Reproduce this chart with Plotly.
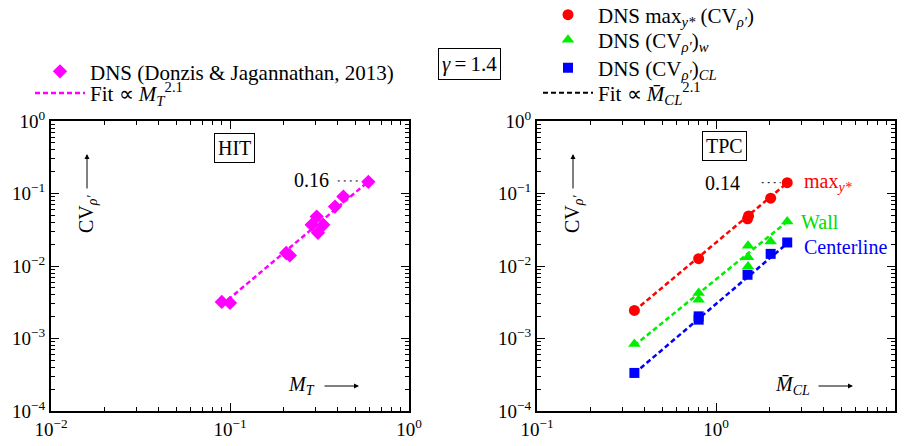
import plotly.graph_objects as go

# ---------------- data ----------------
# HIT: DNS (Donzis & Jagannathan, 2013)
hit_mt = [0.090, 0.100, 0.206, 0.216, 0.305, 0.286, 0.332, 0.310, 0.386, 0.430, 0.593]
hit_cv = [0.0032, 0.0031, 0.0151, 0.0140, 0.0481, 0.0370, 0.0370, 0.0287, 0.066, 0.0906, 0.145]
hit_fit_x = [0.090, 0.600]
hit_fit_y = [0.0029, 0.150]

# TPC
tpc_max_m = [0.35, 0.80, 1.50, 1.52, 2.02, 2.50]
tpc_max_cv = [0.00244, 0.0126, 0.0447, 0.049, 0.0861, 0.141]
tpc_wall_m = [0.35, 0.80, 0.80, 1.51, 1.51, 1.51, 2.02, 2.50]
tpc_wall_cv = [0.00084, 0.00423, 0.00342, 0.0190, 0.01325, 0.00984, 0.0218, 0.041]
tpc_cl_m = [0.35, 0.80, 0.80, 1.50, 2.02, 2.50]
tpc_cl_cv = [0.000335, 0.00202, 0.00182, 0.00757, 0.0147, 0.0211]
fit_max_x = [0.35, 2.50]
fit_max_y = [0.0024, 0.140]
fit_wall_x = [0.35, 2.50]
fit_wall_y = [0.00080, 0.041]
fit_cl_x = [0.35, 2.50]
fit_cl_y = [0.00033, 0.0205]

# connectors for highlighted values
hit_note_x = [0.40, 0.52]
hit_note_y = [0.149, 0.149]
tpc_note_x = [1.80, 2.30]
tpc_note_y = [0.141, 0.141]

# axis ticks
y_tickvals = [1e-4, 1e-3, 1e-2, 1e-1, 1e0]
y_ticktext = ["10<sup>\u22124</sup>", "10<sup>\u22123</sup>", "10<sup>\u22122</sup>", "10<sup>\u22121</sup>", "10<sup>0</sup>"]
x1_tickvals = [1e-2, 1e-1, 1e0]
x1_ticktext = ["10<sup>\u22122</sup>", "10<sup>\u22121</sup>", "10<sup>0</sup>"]
x2_tickvals = [1e-1, 1e0, 1e1]
x2_ticktext = ["10<sup>\u22121</sup>", "10<sup>0</sup>", "10<sup>1</sup>"]

# ---------------- layout helpers ----------------
W, H = 907, 446
FONT = "Liberation Serif, Times New Roman, serif"
MAGENTA = "#ff00ff"
RED = "#ff0000"
GREEN = "#00ee00"
BLUE = "#0000ff"


def px(x):
    return x / W


def py(y):
    return 1 - y / H


fig = go.Figure()

# ---- left panel (HIT)
fig.add_trace(go.Scatter(x=hit_fit_x, y=hit_fit_y, mode="lines", xaxis="x", yaxis="y",
                         line=dict(color=MAGENTA, width=2.5, dash="5px,3px"),
                         name="Fit \u221d <i>M</i><sub><i>T</i></sub><sup>2.1</sup>",
                         legend="legend2"))
fig.add_trace(go.Scatter(x=hit_mt, y=hit_cv, mode="markers", xaxis="x", yaxis="y",
                         marker=dict(symbol="diamond", size=11, color=MAGENTA),
                         name="DNS (Donzis &amp; Jagannathan, 2013)", legend="legend"))
fig.add_trace(go.Scatter(x=hit_note_x, y=hit_note_y, mode="lines", xaxis="x", yaxis="y",
                         line=dict(color="black", width=1, dash="2px,4px"), showlegend=False))

# ---- right panel (TPC)
for fx, fy, col in [(fit_max_x, fit_max_y, RED), (fit_wall_x, fit_wall_y, GREEN), (fit_cl_x, fit_cl_y, BLUE)]:
    fig.add_trace(go.Scatter(x=fx, y=fy, mode="lines", xaxis="x2", yaxis="y2",
                             line=dict(color=col, width=2.5, dash="5px,3px"), showlegend=False))
fig.add_trace(go.Scatter(x=[None], y=[None], mode="lines", xaxis="x2", yaxis="y2",
                         line=dict(color="black", width=2, dash="5px,3px"),
                         name="Fit \u221d <i>M\u0304</i><sub><i>CL</i></sub><sup>2.1</sup>", legend="legend6"))
fig.add_trace(go.Scatter(x=tpc_max_m, y=tpc_max_cv, mode="markers", xaxis="x2", yaxis="y2",
                         marker=dict(symbol="circle", size=11, color=RED),
                         name="DNS max<sub><i>y*</i></sub> (CV<sub><i>\u03c1\u2032</i></sub>)", legend="legend3"))
fig.add_trace(go.Scatter(x=tpc_wall_m, y=tpc_wall_cv, mode="markers", xaxis="x2", yaxis="y2",
                         marker=dict(symbol="triangle-up", size=11, color=GREEN),
                         name="DNS (CV<sub><i>\u03c1\u2032</i></sub>)<sub><i>w</i></sub>", legend="legend4"))
fig.add_trace(go.Scatter(x=tpc_cl_m, y=tpc_cl_cv, mode="markers", xaxis="x2", yaxis="y2",
                         marker=dict(symbol="square", size=10, color=BLUE),
                         name="DNS (CV<sub><i>\u03c1\u2032</i></sub>)<sub><i>CL</i></sub>", legend="legend5"))
fig.add_trace(go.Scatter(x=tpc_note_x, y=tpc_note_y, mode="lines", xaxis="x2", yaxis="y2",
                         line=dict(color="black", width=1, dash="2px,4px"), showlegend=False))

axis_common = dict(type="log", showline=True, linecolor="black", linewidth=2, mirror="ticks",
                   ticks="inside", ticklen=8, tickwidth=1, tickcolor="black", showgrid=False,
                   zeroline=False, tickfont=dict(family=FONT, size=19, color="black"),
                   minor=dict(ticks="inside", ticklen=4, tickwidth=1, tickcolor="black",
                              dtick="D1", showgrid=False))

LEFT = (51, 409)
RIGHT = (537, 895)
TOP, BOTTOM = 121, 411

leg_common = dict(bgcolor="rgba(0,0,0,0)", borderwidth=0, xanchor="left", yanchor="middle",
                  font=dict(family=FONT, size=21, color="black"), itemwidth=50,
                  tracegroupgap=0)

fig.update_layout(
    width=W, height=H, margin=dict(l=0, r=0, t=0, b=0, autoexpand=False),
    paper_bgcolor="white", plot_bgcolor="white",
    font=dict(family=FONT, size=20, color="black"),
    xaxis=dict(axis_common, domain=[px(LEFT[0]), px(LEFT[1])], range=[-2, 0], anchor="y",
               tickvals=x1_tickvals, ticktext=x1_ticktext),
    yaxis=dict(axis_common, domain=[py(BOTTOM), py(TOP)], range=[-4, 0], anchor="x",
               tickvals=y_tickvals, ticktext=y_ticktext),
    xaxis2=dict(axis_common, domain=[px(RIGHT[0]), px(RIGHT[1])], range=[-1, 1], anchor="y2",
                tickvals=x2_tickvals, ticktext=x2_ticktext),
    yaxis2=dict(axis_common, domain=[py(BOTTOM), py(TOP)], range=[-4, 0], anchor="x2",
                tickvals=y_tickvals, ticktext=y_ticktext),
    legend=dict(leg_common, x=px(30), y=py(71.7)),
    legend2=dict(leg_common, x=px(30), y=py(93.3)),
    legend3=dict(leg_common, x=px(538), y=py(15)),
    legend4=dict(leg_common, x=px(538), y=py(40)),
    legend5=dict(leg_common, x=px(538), y=py(68)),
    legend6=dict(leg_common, x=px(538), y=py(93)),
    showlegend=True,
)

ann = []


def text(x, y, s, color="black", size=20, xanchor="center", box=False, angle=0):
    d = dict(x=px(x), y=py(y), xref="paper", yref="paper", text=s, showarrow=False,
             xanchor=xanchor, yanchor="middle", textangle=angle,
             font=dict(family=FONT, size=size, color=color))
    if box:
        d.update(bordercolor="black", borderwidth=1, borderpad=3, bgcolor="white")
    ann.append(d)


def arrow(x0, y0, x1, y1):
    ann.append(dict(x=px(x1), y=py(y1), xref="paper", yref="paper", ax=x0 - x1, ay=y0 - y1,
                    axref="pixel", ayref="pixel", text="", showarrow=True, arrowhead=2,
                    arrowsize=1, arrowwidth=1, arrowcolor="black"))


text(470, 64, "<i>\u03b3</i>\u2009=\u20091.4", box=True, size=21)
text(234.5, 148, "HIT", box=True)
text(724, 146, "TPC", box=True)
text(311, 180, "0.16")
text(722, 183, "0.14")
text(802, 182, "max<sub><i>y*</i></sub>", color=RED, xanchor="left")
text(799, 222, "Wall", color="#00dd00", xanchor="left")
text(802, 247, "Centerline", color=BLUE, xanchor="left")
# axis labels
text(87, 214, "CV<sub><i>\u03c1\u2032</i></sub>", angle=-90)
arrow(87, 190, 87, 154)
text(573, 214, "CV<sub><i>\u03c1\u2032</i></sub>", angle=-90)
arrow(573, 190, 573, 154)
text(317, 385, "<i>M</i><sub><i>T</i></sub>", xanchor="right")
arrow(323, 386, 359, 386)
text(812, 385, "<i>M\u0304</i><sub><i>CL</i></sub>", xanchor="right")
arrow(817, 386, 853, 386)

fig.update_layout(annotations=ann)
fig.write_html("out.html", config={"displayModeBar": False},
               post_script="document.body.style.margin='0';document.body.style.overflow='hidden';")
